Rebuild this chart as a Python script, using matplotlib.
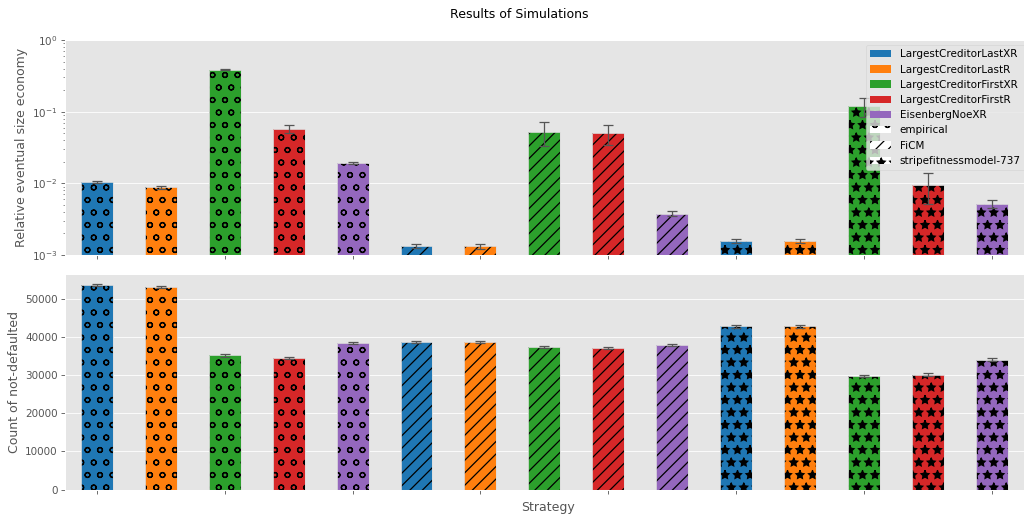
import matplotlib
matplotlib.use("Agg")
import matplotlib.pyplot as plt
from matplotlib.patches import Patch
import numpy as np

plt.style.use("ggplot")
plt.rcParams["hatch.linewidth"] = 1.2

strategies = ["LargestCreditorLastXR", "LargestCreditorLastR", "LargestCreditorFirstXR",
              "LargestCreditorFirstR", "EisenbergNoeXR"]
models = ["empirical", "FiCM", "stripefitnessmodel-737"]
strategy_colors = ["#1f77b4", "#ff7f0e", "#2ca02c", "#d62728", "#9467bd"]
model_hatches = ["o", "//", "*"]

# one row per model, one column per strategy
size_mean = [
    [0.0105, 0.0088, 0.385, 0.058, 0.0192],
    [0.00134, 0.00132, 0.052, 0.050, 0.00378],
    [0.00157, 0.00157, 0.120, 0.0095, 0.0052],
]
size_err = [
    [0.0003, 0.0004, 0.005, 0.007, 0.0006],
    [0.0001, 0.0001, 0.019, 0.016, 0.0003],
    [0.0001, 0.0001, 0.035, 0.0043, 0.0006],
]
alive_mean = [
    [53750, 53250, 35220, 34600, 38460],
    [38800, 38800, 37400, 37230, 37930],
    [42900, 42820, 29800, 30150, 34090],
]
alive_err = [
    [350, 300, 350, 300, 300],
    [250, 250, 300, 250, 250],
    [400, 350, 350, 350, 350],
]

dpi = 75
fig = plt.figure(figsize=(1024 / dpi, 516 / dpi), dpi=dpi)
W, H = 1024, 516
left, right = 65, 1030
ax_top = fig.add_axes([left / W, (H - 255) / H, (right - left) / W, 215 / H])
ax_bot = fig.add_axes([left / W, (H - 489.5) / H, (right - left) / W, 215.5 / H])

n_s = len(strategies)
positions = np.arange(len(models) * n_s)
bar_colors = [strategy_colors[i % n_s] for i in positions]
bar_hatches = [model_hatches[i // n_s] for i in positions]


def draw(ax, means, errs):
    vals = np.array(means).ravel()
    errv = np.array(errs).ravel()
    for x, v, c, h in zip(positions, vals, bar_colors, bar_hatches):
        ax.bar(x, v, width=0.5, color=c, hatch=h, edgecolor="black", linewidth=0)
        ax.bar(x, v, width=0.5, fill=False, edgecolor="#DDDDDD", linewidth=0.8)
    ax.errorbar(positions, vals, yerr=errv, fmt="none", ecolor="#555555",
                elinewidth=1.2, capsize=5, capthick=1.2)
    ax.set_xlim(-0.5, 14.6)
    ax.set_xticks(positions[::2])
    ax.set_xticklabels([""] * len(positions[::2]))
    ax.grid(False, axis="x")


draw(ax_top, size_mean, size_err)
ax_top.set_yscale("log")
ax_top.set_ylim(1e-3, 1)
ax_top.set_ylabel("Relative eventual size economy")

draw(ax_bot, alive_mean, alive_err)
ax_bot.set_ylim(0, 56600)
ax_bot.set_ylabel("Count of not-defaulted")
ax_bot.set_xlabel("Strategy")

handles = [Patch(facecolor=c, label=s) for c, s in zip(strategy_colors, strategies)]
handles += [Patch(facecolor="white", edgecolor="black", linewidth=0, hatch=h, label=m)
            for h, m in zip(model_hatches, models)]
ax_top.legend(handles=handles, loc="upper right")

fig.suptitle("Results of Simulations", x=0.507, y=0.985)

fig.savefig("out.png", dpi=dpi)
